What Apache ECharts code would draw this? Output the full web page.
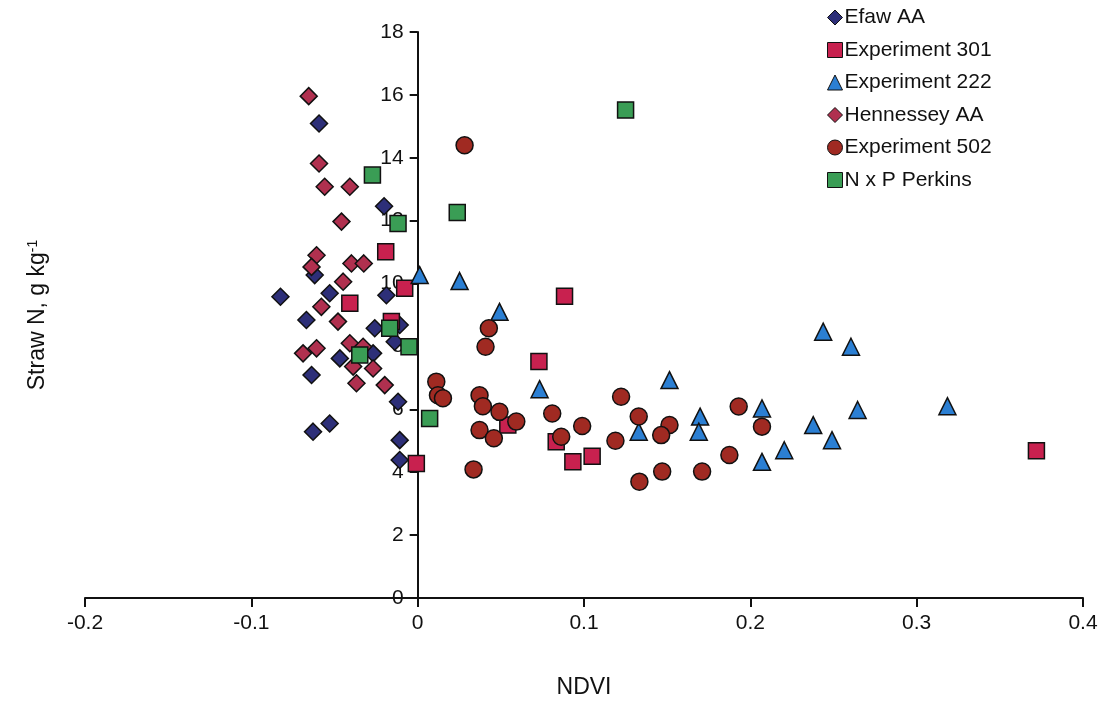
<!DOCTYPE html>
<html>
<head>
<meta charset="utf-8">
<script src="https://cdn.jsdelivr.net/npm/echarts@6/dist/echarts.min.js"></script>
<style>html,body{margin:0;padding:0;background:#fff}#c{width:1112px;height:705px}</style>
</head>
<body>
<div id="c"></div>
<script>
const seriesNames = ['Efaw AA', 'Experiment 301', 'Experiment 222', 'Hennessey AA', 'Experiment 502', 'N x P Perkins'];
const xTicks = [-0.2, -0.1, 0, 0.1, 0.2, 0.3, 0.4];
const yTicks = [0, 2, 4, 6, 8, 10, 12, 14, 16, 18];

const efawAA = [[-0.0593,15.09],[-0.0202,12.46],[-0.0825,9.58],[-0.0529,9.69],[-0.0619,10.27],[-0.0188,9.63],[-0.0669,8.84],[-0.0258,8.58],[-0.0108,8.68],[-0.0138,8.15],[-0.0468,7.62],[-0.0268,7.78],[-0.0638,7.09],[-0.0118,6.24],[-0.0629,5.29],[-0.0529,5.55],[-0.0108,5.02],[-0.0108,4.39]];
const exp301 = [[-0.0192,11.01],[-0.0408,9.37],[-0.0078,9.85],[-0.0158,8.79],[-0.0008,4.28],[0.0883,9.6],[0.0729,7.52],[0.0542,5.5],[0.0833,4.97],[0.0933,4.33],[0.1049,4.51],[0.372,4.68]];
const exp222 = [[0.0012,10.27],[0.0252,10.08],[0.0492,9.1],[0.0733,6.64],[0.1329,5.29],[0.1514,6.93],[0.1698,5.77],[0.169,5.29],[0.207,6.03],[0.207,4.33],[0.2204,4.7],[0.2378,5.5],[0.2491,5.02],[0.2438,8.47],[0.2605,7.99],[0.2645,5.98],[0.3185,6.1]];
const hennesseyAA = [[-0.0655,15.96],[-0.0593,13.82],[-0.0559,13.08],[-0.0408,13.08],[-0.0458,11.97],[-0.0608,10.9],[-0.0638,10.53],[-0.0398,10.64],[-0.0324,10.64],[-0.0448,10.06],[-0.0579,9.26],[-0.0479,8.79],[-0.0689,7.78],[-0.0608,7.94],[-0.0408,8.1],[-0.0328,7.99],[-0.0388,7.36],[-0.0268,7.3],[-0.0368,6.83],[-0.0198,6.77]];
const exp502 = [[0.0282,14.4],[0.0428,8.58],[0.0408,7.99],[0.0112,6.88],[0.0122,6.45],[0.0152,6.35],[0.0372,6.45],[0.0392,6.1],[0.0492,5.92],[0.0593,5.61],[0.0372,5.34],[0.0458,5.08],[0.0809,5.87],[0.0989,5.47],[0.0863,5.13],[0.1223,6.4],[0.1329,5.77],[0.1189,5.0],[0.0336,4.09],[0.1333,3.7],[0.1514,5.5],[0.1464,5.18],[0.193,6.09],[0.207,5.45],[0.147,4.02],[0.171,4.02],[0.1874,4.55]];
const nxpPerkins = [[-0.0272,13.45],[-0.0118,11.91],[0.0238,12.26],[0.125,15.52],[-0.0168,8.58],[-0.0052,7.99],[-0.0348,7.73],[0.0072,5.71]];

const chart = echarts.init(document.getElementById('c'), null, {renderer: 'canvas'});
const FONT = 'Liberation Sans, Arial, sans-serif';
const border = {borderColor: '#111', borderWidth: 1.5};
function mk(name, data, symbol, size, color) {
  return {name, type: 'scatter', data, symbol, symbolSize: size,
    itemStyle: Object.assign({color, opacity: 1}, border)};
}
const GRID_LEFT = 85, GRID_RIGHT = 29;
const plotW = 1112 - GRID_LEFT - GRID_RIGHT;
const xMin = xTicks[0], xMax = xTicks[xTicks.length-1];
// shift the y axis so it sits at x = 0 (as in the reference)
const yAxisShift = plotW * (0 - xMin) / (xMax - xMin);

chart.setOption({
  animation: false,
  backgroundColor: '#fff',
  textStyle: {fontFamily: FONT},
  grid: {left: GRID_LEFT, right: GRID_RIGHT, top: 32, bottom: 107, containLabel: false, outerBoundsMode: 'none'},
  legend: {
    orient: 'vertical', left: 822, top: 2, itemGap: 11.5,
    itemWidth: 15, itemHeight: 15,
    textStyle: {fontFamily: FONT, fontSize: 21, color: '#111', padding: [0,0,0,-3]},
    data: seriesNames.map(n => ({name: n, itemStyle: {borderWidth: 1}}))
  },
  xAxis: {
    type: 'value', min: xMin, max: xMax, interval: 0.1,
    name: 'NDVI', nameLocation: 'middle', nameGap: 78,
    nameTextStyle: {fontFamily: FONT, fontSize: 23, color: '#111'},
    axisLine: {show: true, onZero: false, lineStyle: {color: '#111', width: 2}},
    axisTick: {show: true, inside: false, length: 9, lineStyle: {color: '#111', width: 2}},
    axisLabel: {fontFamily: FONT, fontSize: 21, color: '#111', margin: 15,
      formatter: v => String(Math.round(v*10)/10)},
    splitLine: {show: false}
  },
  yAxis: {
    type: 'value', min: yTicks[0], max: yTicks[yTicks.length-1], interval: 2,
    offset: -yAxisShift,
    name: '{a|Straw N, g kg}{s|-1}', nameLocation: 'middle', nameGap: 368,
    nameTextStyle: {fontFamily: FONT, fontSize: 23, color: '#111',
      rich: {a: {fontFamily: FONT, fontSize: 23, color: '#111'},
             s: {fontFamily: FONT, fontSize: 14, color: '#111', verticalAlign: 'top', padding: [0,0,10,0]}}},
    axisLine: {show: true, onZero: false, lineStyle: {color: '#111', width: 2}},
    axisTick: {show: true, inside: false, length: 8, lineStyle: {color: '#111', width: 2}},
    axisLabel: {fontFamily: FONT, fontSize: 21, color: '#111', margin: 14},
    splitLine: {show: false}
  },
  series: [
    mk(seriesNames[0], efawAA, 'diamond', 17, '#2d2f78'),
    mk(seriesNames[1], exp301, 'rect', 16, '#c8214f'),
    mk(seriesNames[2], exp222, 'triangle', 17, '#2b7fd3'),
    mk(seriesNames[3], hennesseyAA, 'diamond', 17, '#b0304f'),
    mk(seriesNames[4], exp502, 'circle', 17, '#a02a22'),
    mk(seriesNames[5], nxpPerkins, 'rect', 16, '#3a9d55')
  ]
});
</script>
</body>
</html>
